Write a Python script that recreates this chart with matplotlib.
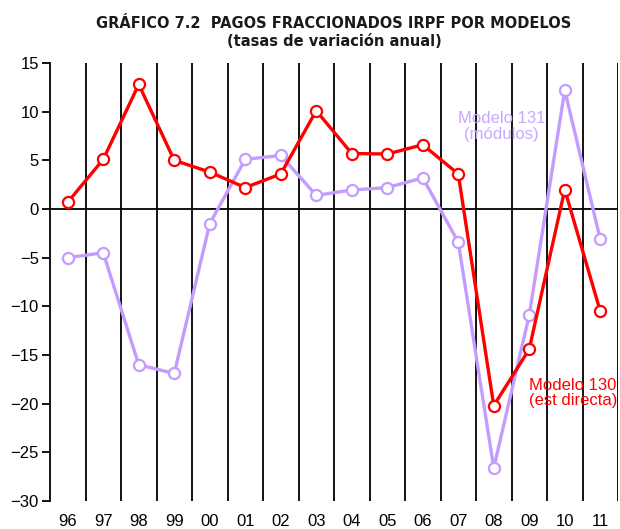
import matplotlib
matplotlib.use("Agg")
import numpy as np
from matplotlib import pyplot as plt

# --------------------------------------- data -----------------------------------------

years = ["96", "97", "98", "99", "00", "01", "02", "03",
         "04", "05", "06", "07", "08", "09", "10", "11"]

# Modelo 130 (estimacion directa)
modelo_130 = [0.7, 5.1, 12.8, 5.0, 3.8, 2.2, 3.6, 10.1,
              5.7, 5.65, 6.6, 3.6, -20.2, -14.4, 2.0, -10.5]

# Modelo 131 (modulos)
modelo_131 = [-5.0, -4.5, -16.0, -16.9, -1.5, 5.1, 5.5, 1.4,
              1.95, 2.2, 3.2, -3.4, -26.6, -10.9, 12.2, -3.1]

y_ticks = [15, 10, 5, 0, -5, -10, -15, -20, -25, -30]

RED = "#FF0000"
LILAC = "#C49CFF"

plt.rcParams["font.family"] = ["Liberation Sans", "DejaVu Sans"]

fig = plt.figure(figsize=(6.2, 5.29), dpi=100)
ax = fig.add_axes([50 / 620, 1 - 501 / 529, 568 / 620, (501 - 63) / 529])

x = np.arange(len(years))

# vertical separators between the years, plus the zero line
for xv in np.arange(0.5, len(years), 1.0):
    ax.axvline(xv, color="black", lw=1.3, zorder=1)
ax.axhline(0, color="black", lw=1.3, zorder=1)

ax.plot(x, modelo_131, color=LILAC, lw=2.4, marker="o", ms=8,
        mfc="white", mec=LILAC, mew=1.6, zorder=3)
ax.plot(x, modelo_130, color=RED, lw=2.4, marker="o", ms=8,
        mfc="white", mec=RED, mew=1.6, zorder=4)

ax.text(12.22, 8.5, "Modelo 131\n(módulos)", color="#CBA6FF", fontsize=12,
        ha="center", va="center", linespacing=1.05, zorder=5)
ax.text(12.99, -18.9, "Modelo 130\n(est directa)", color=RED, fontsize=12,
        ha="left", va="center", linespacing=1.0, zorder=5, clip_on=False)

ax.set_xlim(-0.5, len(years) - 0.5)
ax.set_ylim(-30, 15)
ax.set_yticks(y_ticks)
ax.set_xticks(x)
ax.set_xticklabels(years)

for side in ["top", "right", "bottom"]:
    ax.spines[side].set_visible(False)
ax.spines["left"].set_linewidth(1.3)
ax.tick_params(axis="y", length=6, width=1.3, pad=2, labelsize=12)
ax.tick_params(axis="x", length=0, pad=9, labelsize=12)

fig.text(334 / 620, 1 - 23 / 529, "GRÁFICO 7.2  PAGOS FRACCIONADOS IRPF POR MODELOS",
         ha="center", va="center", fontsize=10.5, fontweight="bold",
         family="DejaVu Sans", color="#1a1a1a")
fig.text(334 / 620, 1 - 42 / 529, "(tasas de variación anual)",
         ha="center", va="center", fontsize=10.5, fontweight="bold",
         family="DejaVu Sans", color="#1a1a1a")

fig.savefig("out.png", dpi=100)
